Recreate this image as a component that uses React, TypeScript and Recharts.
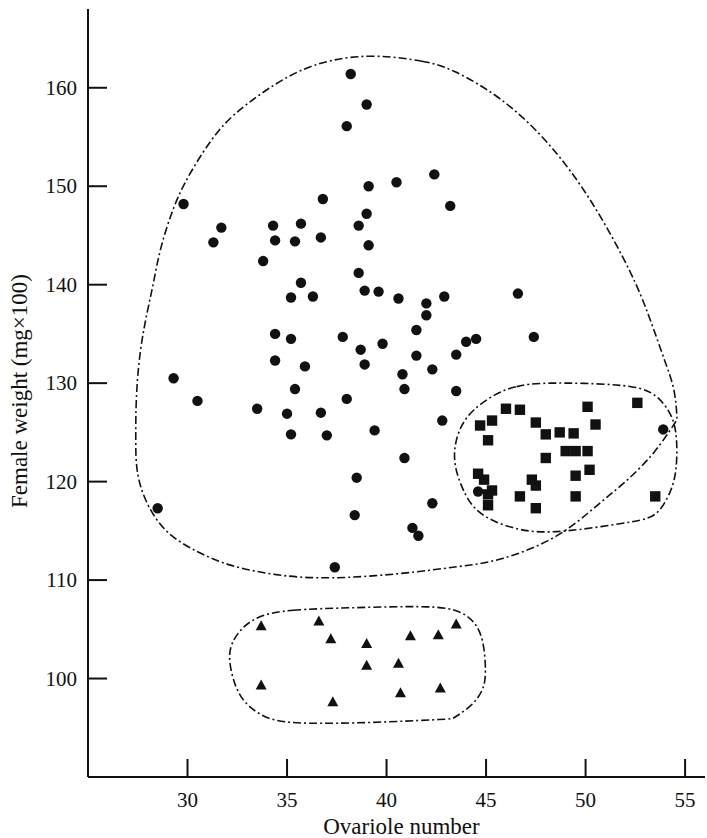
import React from 'react';
import { ScatterChart, Scatter, XAxis, YAxis } from 'recharts';

// circles: main group (ovariole number, female weight)
const circlePoints = [
  [29.8, 148.2], [31.7, 145.8], [31.3, 144.3], [34.3, 146.0], [34.4, 144.5],
  [35.7, 146.2], [35.4, 144.4], [36.8, 148.7], [36.7, 144.8], [38.2, 161.4],
  [39.0, 158.3], [38.0, 156.1], [42.4, 151.2], [40.5, 150.4], [39.1, 150.0],
  [43.2, 148.0], [39.0, 147.2], [38.6, 146.0], [39.1, 144.0], [33.8, 142.4],
  [35.7, 140.2], [35.2, 138.7], [36.3, 138.8], [34.4, 135.0], [35.2, 134.5],
  [34.4, 132.3], [35.9, 131.7], [29.3, 130.5], [35.4, 129.4], [30.5, 128.2],
  [33.5, 127.4], [35.0, 126.9], [36.7, 127.0], [35.2, 124.8], [37.0, 124.7],
  [38.6, 141.2], [38.9, 139.4], [39.6, 139.3], [40.6, 138.6], [42.0, 138.1],
  [42.0, 136.9], [42.9, 138.8], [41.5, 135.4], [37.8, 134.7], [39.8, 134.0],
  [44.0, 134.2], [44.5, 134.5], [38.7, 133.4], [41.5, 132.8], [43.5, 132.9],
  [38.9, 131.9], [42.3, 131.4], [40.8, 130.9], [40.9, 129.4], [43.5, 129.2],
  [38.0, 128.4], [42.8, 126.2], [39.4, 125.2], [28.5, 117.3], [40.9, 122.4],
  [38.5, 120.4], [42.3, 117.8], [38.4, 116.6], [41.3, 115.3], [41.6, 114.5],
  [37.4, 111.3], [44.6, 119.0], [47.4, 134.7], [53.9, 125.3], [46.6, 139.1],
];

const squarePoints = [
  [46.0, 127.4], [46.7, 127.3], [50.1, 127.6], [52.6, 128.0], [44.7, 125.7],
  [45.3, 126.2], [47.5, 126.0], [50.5, 125.8], [45.1, 124.2], [48.0, 124.8],
  [48.7, 125.0], [49.4, 124.9], [49.0, 123.1], [49.5, 123.1], [50.1, 123.1],
  [48.0, 122.4], [50.2, 121.2], [49.5, 120.6], [44.6, 120.8], [44.9, 120.2],
  [47.3, 120.2], [47.5, 119.6], [45.3, 119.1], [45.1, 118.7], [46.7, 118.5],
  [49.5, 118.5], [53.5, 118.5], [45.1, 117.6], [47.5, 117.3],
];

const trianglePoints = [
  [33.7, 105.3], [36.6, 105.8], [37.2, 104.0], [39.0, 103.5], [41.2, 104.3],
  [42.6, 104.4], [43.5, 105.5], [39.0, 101.3], [40.6, 101.5], [33.7, 99.3],
  [40.7, 98.5], [42.7, 99.0], [37.3, 97.6],
];

// hand-drawn group boundaries
const mainOutline = [
  [39.4, 163.4], [42.0, 162.7], [43.2, 162.0], [45.7, 159.2], [48.2, 154.5],
  [50.4, 148.4], [52.4, 140.9], [53.2, 136.8], [54.0, 132.1], [54.5, 129.4],
  [54.6, 126.3], [54.6, 126.3], [53.5, 122.9], [52.0, 119.9], [50.5, 117.5], [48.7, 114.3],
  [45.7, 111.9], [43.7, 111.4], [40.7, 110.6], [37.1, 110.1], [34.6, 110.4],
  [32.1, 111.4], [30.5, 112.8], [28.8, 114.8], [27.8, 118.2], [27.4, 121.2],
  [27.4, 124.3], [27.4, 128.4], [27.6, 133.4], [28.0, 137.5], [28.3, 140.2],
  [28.6, 143.6], [29.3, 148.0], [30.0, 151.0], [31.5, 155.8], [32.8, 158.1],
  [34.1, 160.0], [35.5, 161.7], [37.2, 162.9],
];

const squareOutline = [
  [45.5, 129.0], [46.5, 129.7], [47.7, 130.1], [52.0, 129.9], [53.4, 129.2],
  [54.2, 127.3], [54.6, 125.3], [54.6, 121.2], [54.3, 118.9], [53.6, 116.5],
  [52.7, 116.0], [49.4, 115.0], [47.7, 114.8], [46.3, 115.2], [44.5, 116.7],
  [43.8, 119.2], [43.4, 121.6], [43.4, 123.6], [43.7, 125.6], [44.3, 127.3],
];

const triangleOutline = [
  [33.6, 106.4], [35.0, 107.0], [38.3, 107.2], [42.5, 107.4], [43.7, 106.9],
  [44.5, 105.7], [44.9, 103.7], [45.0, 100.6], [44.9, 98.9], [44.3, 97.2],
  [43.3, 95.9], [43.3, 95.9], [39.2, 95.5], [35.8, 95.4], [34.1, 95.7], [33.0, 97.2],
  [32.4, 98.9], [32.0, 102.3], [32.3, 104.0], [32.8, 105.3],
];

const xTicks = [30, 35, 40, 45, 50, 55];
const yTicks = [100, 110, 120, 130, 140, 150, 160];

const toXY = (pts: number[][]) => pts.map(([x, y]) => ({ x, y }));

const FONT = '"Liberation Serif", "DejaVu Serif", serif';
const INK = '#111';

const YTick = (props: any) => {
  const { x, y, payload } = props;
  return (
    <g>
      <line x1={x} x2={x + 19} y1={y} y2={y} stroke={INK} strokeWidth={2} />
      <text x={x - 11} y={y + 7} textAnchor="end" fontFamily={FONT} fontSize={21} fill={INK}>
        {payload.value}
      </text>
    </g>
  );
};

const XTick = (props: any) => {
  const { x, y, payload } = props;
  return (
    <g>
      <line x1={x} x2={x} y1={y} y2={y - 18} stroke={INK} strokeWidth={2} />
      <text x={x} y={y + 30} textAnchor="middle" fontFamily={FONT} fontSize={21} fill={INK}>
        {payload.value}
      </text>
    </g>
  );
};

const Dot = (props: any) => <circle cx={props.cx} cy={props.cy} r={5.2} fill={INK} />;
const Square = (props: any) => (
  <rect x={props.cx - 5.2} y={props.cy - 5.2} width={10.4} height={10.4} fill={INK} />
);
const Triangle = (props: any) => {
  const { cx, cy } = props;
  return <polygon points={`${cx},${cy - 6} ${cx + 5.5},${cy + 4} ${cx - 5.5},${cy + 4}`} fill={INK} />;
};
const Nothing = () => <g />;

const outlineStyle = { stroke: INK, strokeWidth: 1.6, strokeDasharray: '8 3 2 3' };

export default function App() {
  return (
    <div style={{ position: 'absolute', left: 0, top: 0, background: '#fff' }}>
      <ScatterChart width={707} height={838} margin={{ top: 9, right: 2, bottom: 11, left: 28 }}>
        <XAxis
          type="number"
          dataKey="x"
          domain={[25, 56]}
          ticks={xTicks}
          interval={0}
          height={50}
          tickSize={0}
          tickMargin={0}
          tickLine={false}
          tick={<XTick />}
          axisLine={{ stroke: INK, strokeWidth: 2 }}
          label={(p: any) => {
            const vb = p.viewBox;
            return (
              <text x={vb.x + vb.width / 2 + 5} y={834} textAnchor="middle" fontFamily={FONT} fontSize={23} fill={INK}>
                Ovariole number
              </text>
            );
          }}
        />
        <YAxis
          type="number"
          dataKey="y"
          domain={[90, 168]}
          ticks={yTicks}
          interval={0}
          width={60}
          tickSize={0}
          tickMargin={0}
          tickLine={false}
          tick={<YTick />}
          axisLine={{ stroke: INK, strokeWidth: 2 }}
          label={(p: any) => {
            const vb = p.viewBox;
            const cy = vb.y + vb.height / 2 - 2;
            return (
              <text
                x={19}
                y={cy}
                transform={`rotate(-90, 19, ${cy})`}
                textAnchor="middle"
                dominantBaseline="central"
                fontFamily={FONT}
                fontSize={23}
                fill={INK}
              >
                Female weight (mg×100)
              </text>
            );
          }}
        />
        <Scatter data={toXY(mainOutline)} shape={<Nothing />} line={outlineStyle} lineJointType="basisClosed" isAnimationActive={false} />
        <Scatter data={toXY(squareOutline)} shape={<Nothing />} line={outlineStyle} lineJointType="basisClosed" isAnimationActive={false} />
        <Scatter data={toXY(triangleOutline)} shape={<Nothing />} line={outlineStyle} lineJointType="basisClosed" isAnimationActive={false} />
        <Scatter data={toXY(circlePoints)} shape={<Dot />} isAnimationActive={false} />
        <Scatter data={toXY(squarePoints)} shape={<Square />} isAnimationActive={false} />
        <Scatter data={toXY(trianglePoints)} shape={<Triangle />} isAnimationActive={false} />
      </ScatterChart>
    </div>
  );
}
